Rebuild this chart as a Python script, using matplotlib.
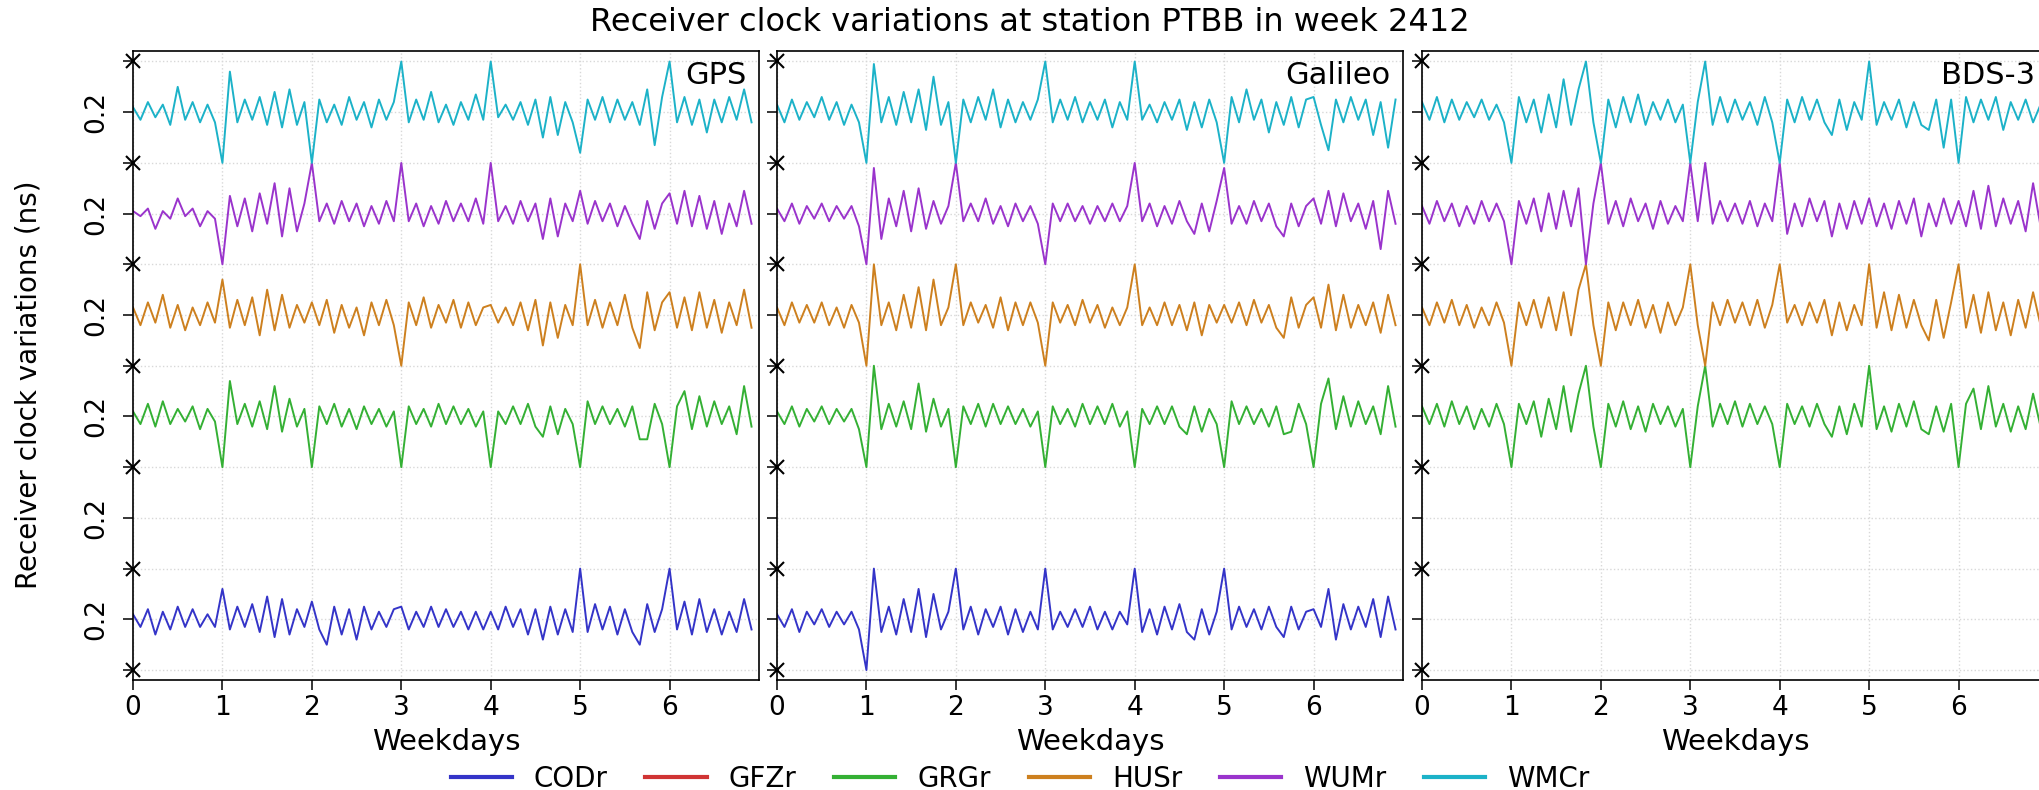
import numpy as np
import matplotlib
matplotlib.use("Agg")
import matplotlib.pyplot as plt
from matplotlib.lines import Line2D

# analysis centres, bottom row first
centres = ["CODr", "GFZr", "GRGr", "HUSr", "WUMr", "WMCr"]
colours = ["#3434c8", "#d03434", "#34b034", "#cd801f", "#9a34cc", "#1cb2c8"]
systems = ["GPS", "Galileo", "BDS-3"]
day_ticks = [0, 1, 2, 3, 4, 5, 6]
row_label = "0.2"

# samples every 2 hours (12 per day), values in 0.01 ns
gps_cod = [2,-3,4,-6,3,-4,5,-3,4,-3,2,-3, 12,-4,5,-3,6,-5,9,-7,8,-6,4,-3,
           7,-4,-10,5,-6,4,-8,5,-4,3,-3,4, 5,-4,3,-3,5,-3,4,-3,3,-4,3,-4,
           3,-4,5,-3,4,-6,4,-8,5,-6,4,-5, 20,-5,6,-4,5,-6,4,-5,-10,6,-5,4,
           20,-4,7,-6,8,-5,4,-6,3,-5,8,-4]
gps_grg = [2,-3,5,-4,6,-3,3,-2,4,-5,3,-2, -20,14,-3,5,-4,6,-5,12,-6,7,-4,3,
           -20,4,-3,5,-4,3,-5,4,-3,3,-4,2, -20,4,-3,3,-4,5,-3,4,-3,3,-4,2,
           -20,2,-3,4,-3,5,-4,-8,4,-7,3,-3, -20,6,-3,4,-3,3,-4,4,-9,-9,5,-3,
           -20,4,10,-5,8,-4,6,-3,4,-7,12,-4]
gps_hus = [3,-4,5,-3,8,-5,4,-6,3,-4,5,-3, 14,-5,6,-4,7,-8,10,-6,8,-5,4,-3,
           5,-4,6,-7,4,-5,3,-8,5,-4,6,-4, -20,5,-4,7,-5,4,-3,6,-5,5,-4,3,
           4,-3,3,-4,5,-6,6,-12,5,-9,4,-4, 20,-4,6,-5,5,-4,8,-5,-13,9,-6,5,
           9,-5,7,-6,9,-5,6,-7,5,-4,10,-5]
gps_wum = [1,-1,2,-6,1,-2,6,-1,2,-5,1,-2, -20,7,-5,6,-7,8,-4,12,-9,10,-7,4,
           20,-3,4,-4,5,-3,4,-5,3,-4,5,-3, 20,-3,4,-5,3,-4,5,-3,4,-3,6,-4,
           20,-3,3,-4,5,-3,4,-10,6,-9,4,-3, 9,-4,5,-3,4,-5,3,-4,-10,5,-6,4,
           8,-4,9,-5,7,-6,5,-8,4,-5,9,-4]
gps_wmc = [2,-3,4,-2,3,-5,10,-3,4,-4,3,-4, -20,16,-4,5,-3,6,-5,8,-6,9,-5,4,
           -20,5,-4,3,-5,6,-3,4,-6,5,-3,4, 20,-4,5,-3,8,-4,3,-5,4,-3,7,-3,
           20,-2,3,-3,4,-5,5,-10,6,-9,4,-4, -16,5,-3,6,-4,5,-3,4,-5,9,-13,6,
           20,-4,6,-5,5,-8,5,-4,6,-3,9,-4]

gal_cod = [2,-3,4,-5,3,-2,4,-3,3,-2,3,-4, -20,20,-5,5,-6,8,-5,12,-7,10,-4,3,
           20,-4,5,-6,4,-3,5,-6,4,-5,3,-4, 20,-4,3,-3,4,-3,5,-4,3,-4,3,-2,
           20,-5,4,-6,5,-4,6,-5,-8,4,-6,3, 20,-4,5,-3,4,-4,5,-3,-7,5,-4,3,
           4,-3,12,-8,6,-4,5,-3,8,-7,9,-4]
gal_grg = [2,-3,4,-4,3,-2,4,-3,3,-2,3,-5, -20,20,-5,5,-4,6,-5,13,-6,7,-4,3,
           -20,4,-3,5,-4,5,-3,4,-3,3,-4,2, -20,4,-3,3,-4,5,-3,4,-3,5,-4,2,
           -20,3,-3,4,-3,4,-4,-7,4,-6,3,-3, -20,6,-3,4,-3,3,-4,4,-7,-6,5,-3,
           -20,5,15,-5,8,-4,6,-3,4,-7,12,-4]
gal_hus = [3,-4,5,-3,4,-3,5,-4,3,-5,4,-3, -20,20,-4,5,-6,8,-5,11,-6,14,-4,3,
           20,-4,5,-3,4,-5,7,-6,5,-4,5,-3, -20,5,-3,4,-4,6,-3,4,-5,3,-4,3,
           20,-4,3,-4,5,-4,4,-6,5,-8,4,-3, 4,-3,5,-4,6,-3,4,-5,-9,7,-5,4,
           7,-5,12,-6,8,-5,4,-4,5,-7,8,-4]
gal_wum = [2,-3,4,-4,3,-2,4,-3,3,-2,3,-5, -20,18,-10,6,-5,9,-7,10,-6,5,-4,3,
           20,-3,4,-3,6,-4,3,-5,4,-3,3,-4, -20,4,-3,4,-3,3,-4,3,-3,4,-3,3,
           20,-3,4,-5,3,-4,5,-3,-8,4,-7,5, 18,-4,3,-4,5,-3,4,-5,-9,4,-5,3,
           6,-4,9,-5,8,-3,4,-6,5,-14,9,-4]
gal_wmc = [3,-4,5,-3,4,-2,6,-3,4,-5,3,-4, -20,19,-4,6,-5,8,-4,9,-7,14,-5,4,
           -20,5,-4,6,-3,9,-6,5,-4,4,-3,5, 20,-4,5,-3,6,-4,4,-3,5,-6,4,-3,
           20,-3,3,-4,4,-3,5,-7,4,-6,5,-4, -20,6,-4,9,-3,5,-8,4,-5,6,-6,5,
           6,-5,-15,5,-4,6,-3,5,-9,4,-14,5]

bds_grg = [4,-3,5,-4,6,-3,4,-5,3,-4,5,-3, -20,5,-3,6,-8,7,-5,12,-6,9,20,-4,
           -20,5,-4,6,-5,4,-6,5,-3,4,-4,3, -20,4,20,-4,5,-3,6,-4,5,-3,4,-3,
           -20,5,-3,4,-4,5,-3,-8,4,-7,5,-4, 20,-5,4,-6,5,-4,6,-5,-7,4,-6,5,
           -20,5,11,-5,12,-4,5,-6,4,-5,9,-4]
bds_hus = [3,-4,5,-3,6,-4,4,-5,3,-4,5,-3, -20,5,-4,6,-5,7,-6,9,-8,10,20,-4,
           -20,5,-6,5,-4,6,-5,4,-7,5,-4,3, 20,-4,-20,5,-4,6,-3,5,-4,6,-5,4,
           20,-3,4,-4,5,-3,6,-8,5,-6,4,-4, 20,-5,9,-6,8,-5,6,-4,-10,6,-9,5,
           20,-5,8,-7,9,-6,5,-8,6,-5,9,-4]
bds_wum = [3,-4,5,-3,4,-5,3,-4,5,-3,4,-3, -20,5,-4,6,-7,8,-6,9,-5,10,-20,4,
           20,-4,5,-5,6,-3,4,-6,5,-4,3,-3, 20,-3,20,-4,5,-3,4,-4,5,-5,4,-3,
           20,-8,4,-5,6,-3,5,-9,4,-6,5,-4, 6,-5,4,-6,5,-4,6,-9,4,-5,6,-4,
           5,-5,9,-6,11,-5,6,-4,5,-7,12,-5]
bds_wmc = [4,-3,6,-4,5,-3,4,-2,5,-3,3,-4, -20,6,-4,5,-8,7,-6,13,-5,9,20,-4,
           -20,5,-6,6,-4,7,-5,4,-3,5,-4,3, -20,4,20,-5,6,-4,5,-3,4,-5,6,-4,
           -20,5,-4,6,-3,5,-4,-9,5,-7,4,-3, 20,-5,4,-3,5,-6,4,-5,-7,5,-14,5,
           -20,6,-4,5,-3,6,-7,4,-3,5,-4,3]

# None = no solution for that centre / system
panel_data = [
    [gps_cod, None, gps_grg, gps_hus, gps_wum, gps_wmc],
    [gal_cod, None, gal_grg, gal_hus, gal_wum, gal_wmc],
    [None, None, bds_grg, bds_hus, bds_wum, bds_wmc],
]

ROW_GAP = 0.4
centre_y = [ROW_GAP * i for i in range(len(centres))]
edge_y = [ROW_GAP * i - ROW_GAP / 2 for i in range(len(centres) + 1)]

fig = plt.figure(figsize=(20.4, 7.9), dpi=100)
lefts = [133 / 2040, 777 / 2040, 1422 / 2040]
for k, system in enumerate(systems):
    ax = fig.add_axes([lefts[k], 0.139, 626 / 2040, 0.796])
    for row, series in enumerate(panel_data[k]):
        if series is None:
            continue
        vals = np.array(series) * 0.01
        t = np.arange(len(vals)) / 12.0
        ax.plot(t, vals + centre_y[row], color=colours[row], lw=1.4)

    ax.set_xlim(0, 7)
    ax.set_ylim(edge_y[0] - 0.04, edge_y[-1] + 0.04)
    ax.set_xticks(day_ticks)
    yt = sorted(centre_y + edge_y)
    ax.set_yticks(yt)
    if k == 0:
        ax.set_yticklabels([row_label if y in centre_y else "" for y in yt],
                           rotation=90, va="center")
    else:
        ax.set_yticklabels([])
    ax.plot([0] * len(edge_y), edge_y, "kx", ms=10, mew=1.5, clip_on=False, zorder=6)
    ax.tick_params(labelsize=19, length=7, width=1.1)
    ax.tick_params(axis="y", pad=10)
    ax.grid(True, ls=":", color="#d8d8d8", lw=1.0)
    ax.set_xlabel("Weekdays", fontsize=21, labelpad=5)
    for s in ax.spines.values():
        s.set_linewidth(1.2)
    ax.text(0.98, 0.985, system, transform=ax.transAxes, ha="right", va="top",
            fontsize=22)

fig.text(0.505, 0.972, "Receiver clock variations at station PTBB in week 2412",
         ha="center", va="center", fontsize=23)
fig.text(0.014, 0.513, "Receiver clock variations (ns)", rotation=90,
         ha="center", va="center", fontsize=20)

handles = [Line2D([], [], color=c, lw=3) for c in colours]
fig.legend(handles, centres, loc="lower center", bbox_to_anchor=(0.5, -0.035),
           ncol=6, frameon=False, fontsize=20, handlelength=2.2,
           handletextpad=0.8, columnspacing=1.35)

fig.savefig("out.png", dpi=100)
